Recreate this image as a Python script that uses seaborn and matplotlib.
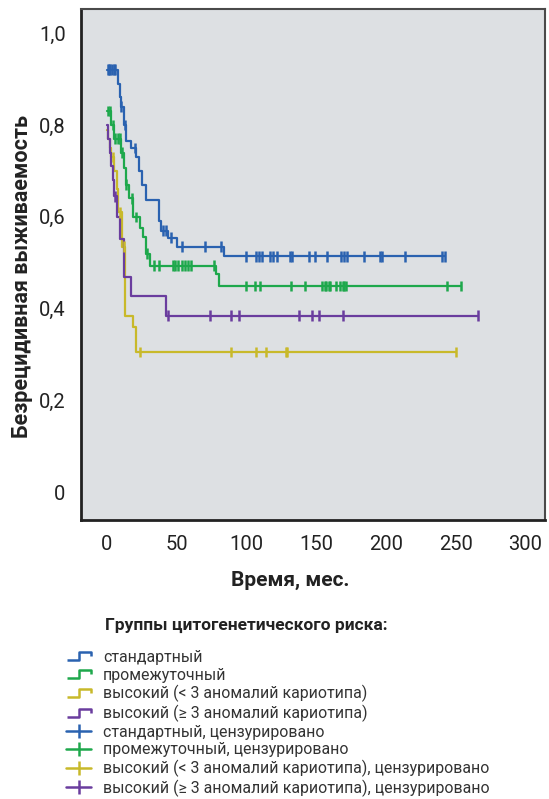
import numpy as np
import pandas as pd
import matplotlib
matplotlib.use("Agg")
import matplotlib.pyplot as plt
from matplotlib.lines import Line2D
from matplotlib.path import Path
import seaborn as sns

# Kaplan-Meier step curves: event times (months) and survival after each step
groups = ["стандартный", "промежуточный",
          "высокий (< 3 аномалий кариотипа)", "высокий (≥ 3 аномалий кариотипа)"]

std_t = [0, 8, 9, 10, 12, 14, 17, 21, 23, 25, 28, 37, 39, 44, 50, 84]
std_s = [0.92, 0.89, 0.86, 0.84, 0.80, 0.765, 0.75, 0.73, 0.70, 0.67, 0.636,
         0.59, 0.57, 0.555, 0.535, 0.514]
std_cens = [0.5, 1.5, 2.5, 3.5, 5, 6, 10, 13, 20, 40, 42, 46, 54, 70, 82,
            100, 107, 109, 111, 117, 119, 122, 131, 133, 145, 149, 158, 168,
            170, 172, 184, 196, 197, 214, 240, 242]

int_t = [0, 3, 5, 10, 12, 14, 16, 19, 24, 26, 28, 31, 78, 80]
int_s = [0.83, 0.80, 0.77, 0.74, 0.706, 0.67, 0.64, 0.60, 0.575, 0.557,
         0.52, 0.494, 0.475, 0.45]
int_cens = [1, 2, 4, 6, 8, 9, 11, 14, 18, 21, 29, 34, 37, 47, 49, 51, 54, 56,
            58, 60, 76.5, 100, 106, 110, 132, 142, 154, 156, 157, 159, 160,
            164, 167, 169, 170, 171, 244, 254]

hi1_t = [0, 1, 2, 3, 5, 7, 8, 11, 13, 18.5, 21]
hi1_s = [0.79, 0.77, 0.75, 0.73, 0.70, 0.66, 0.61, 0.535, 0.385, 0.36, 0.306]
hi1_cens = [4, 9.5, 12, 23.5, 89, 107, 114, 128, 129, 250]

hi3_t = [0, 1, 2, 3, 4, 5, 7, 9, 12, 17, 42]
hi3_s = [0.80, 0.77, 0.74, 0.71, 0.68, 0.645, 0.60, 0.553, 0.47, 0.428, 0.385]
hi3_cens = [6, 43.5, 74, 89, 95, 138, 147, 152, 169, 266]

x_ticks = [0, 50, 100, 150, 200, 250, 300]
y_ticks = [0, 0.2, 0.4, 0.6, 0.8, 1.0]
y_ticklabels = ["0", "0,2", "0,4", "0,6", "0,8", "1,0"]

colors = ["#2a62b0", "#1ea84c", "#c8b92a", "#6a3d9e"]

series = [(std_t, std_s, std_cens), (int_t, int_s, int_cens),
          (hi1_t, hi1_s, hi1_cens), (hi3_t, hi3_s, hi3_cens)]

# Build long tables for the step lines and the censoring ticks
line_rows, cens_rows = [], []
for g, (t, s, c) in zip(groups, series):
    t = np.asarray(t, float)
    s = np.asarray(s, float)
    end = max(c)
    for ti, si in zip(t, s):
        line_rows.append((g, ti, si))
    line_rows.append((g, end, s[-1]))
    for ci in c:
        idx = np.searchsorted(t, ci, side="right") - 1
        cens_rows.append((g, ci, s[idx]))
lines_df = pd.DataFrame(line_rows, columns=["group", "time", "surv"])
cens_df = pd.DataFrame(cens_rows, columns=["group", "time", "surv"])

sns.set_style("white")
plt.rcParams["font.family"] = ["Roboto", "DejaVu Sans"]

W, H = 549, 799
fig = plt.figure(figsize=(W / 100, H / 100), dpi=100)
ax = fig.add_axes([81 / W, 1 - 520 / H, (545 - 81) / W, (520 - 9) / H])
ax.set_facecolor("#dde0e3")

palette = dict(zip(groups, colors))
sns.lineplot(data=lines_df, x="time", y="surv", hue="group", palette=palette,
             drawstyle="steps-post", estimator=None, sort=False, lw=1.6,
             legend=False, ax=ax)
sns.scatterplot(data=cens_df, x="time", y="surv", hue="group", palette=palette,
                marker="|", s=60, linewidth=1.8, legend=False, ax=ax, zorder=3)

ax.set_xlim(-18.6, 314)
ax.set_ylim(-0.059, 1.052)
ax.set_xticks(x_ticks)
ax.set_xticklabels([str(v) for v in x_ticks])
ax.set_yticks(y_ticks)
ax.set_yticklabels(y_ticklabels)
ax.tick_params(axis="both", direction="out", length=8, width=2, color="#222222",
               labelsize=14.5, labelcolor="#222222", pad=3)
for side in ["top", "right"]:
    ax.spines[side].set_color("#4a4a4a")
    ax.spines[side].set_linewidth(1.5)
for side in ["left", "bottom"]:
    ax.spines[side].set_color("#222222")
    ax.spines[side].set_linewidth(2)

ax.set_xlabel("Время, мес.", fontsize=15, fontweight="bold", color="#222222")
ax.xaxis.set_label_coords((290 - 81) / (545 - 81), -0.10)
ax.set_ylabel("Безрецидивная выживаемость", fontsize=15.5, fontweight="bold",
              color="#222222")
ax.yaxis.set_label_coords(-0.103, (520 - 276) / (520 - 9))

# Legend
fig.text(105 / W, 1 - 625 / H, "Группы цитогенетического риска:",
         fontsize=12.5, fontweight="bold", color="#222222", va="center", ha="left")

step_icon = Path([(-1, -0.35), (0, -0.35), (0, 0.35), (1, 0.35), (1, 0.0)],
                 [Path.MOVETO, Path.LINETO, Path.LINETO, Path.LINETO, Path.LINETO])
handles, labels = [], []
for g, c in zip(groups, colors):
    handles.append(Line2D([], [], linestyle="none", marker=step_icon,
                          markersize=17, markerfacecolor="none",
                          markeredgecolor=c, markeredgewidth=1.8))
    labels.append(g)
cens_names = ["стандартный, цензурировано", "промежуточный, цензурировано",
              "высокий (< 3 аномалий кариотипа), цензурировано",
              "высокий (≥ 3 аномалий кариотипа), цензурировано"]
for name, c in zip(cens_names, colors):
    handles.append(Line2D([], [], color=c, lw=1.8, marker="|", markersize=10,
                          markeredgewidth=1.8))
    labels.append(name)

fig.legend(handles, labels, loc="upper left", bbox_to_anchor=(66 / W, 1 - 650 / H),
           frameon=False, fontsize=11.4, handlelength=1.6, handletextpad=0.75,
           labelspacing=0.16, borderpad=0, borderaxespad=0, numpoints=1,
           labelcolor="#333333")

fig.savefig("out.png", dpi=100, facecolor="white")
